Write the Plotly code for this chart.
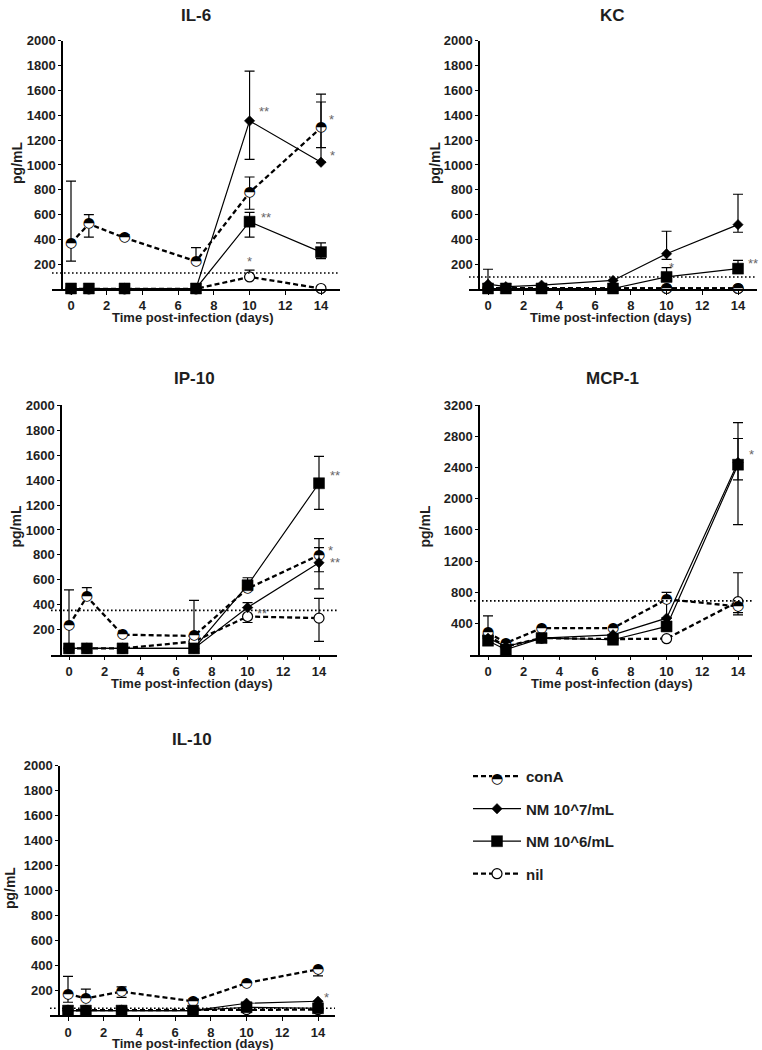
import plotly.graph_objects as go

W, H = 762, 1050

days = [0, 1, 3, 7, 10, 14]
x_ticks = [0, 2, 4, 6, 8, 10, 12, 14]
series_names = ["conA", "NM 10^7/mL", "NM 10^6/mL", "nil"]

# ---------------- IL-6 ----------------
il6_cona = [370, 525, 413, 224, 778, 1300]
il6_cona_up = [500, 75, 25, 110, 125, 271]
il6_cona_dn = [145, 107, 0, 0, 135, 160]
il6_nm7 = [5, 5, 5, 5, 1355, 1022]
il6_nm7_up = [0, 0, 0, 0, 400, 485]
il6_nm7_dn = [0, 0, 0, 0, 310, 0]
il6_nm6 = [5, 5, 5, 5, 543, 298]
il6_nm6_up = [0, 0, 0, 0, 75, 75]
il6_nm6_dn = [0, 0, 0, 0, 125, 53]
il6_nil = [2, 2, 2, 2, 98, 5]
il6_nil_up = [0, 0, 0, 0, 55, 0]
il6_nil_dn = [0, 0, 0, 0, 0, 0]
il6_lod = 130
il6_stars_x = [10.8, 14.6, 14.65, 10.9, 10.0]
il6_stars_y = [1457, 1390, 1097, 604, 245]
il6_stars = ["**", "*", "*", "**", "*"]

# ---------------- KC ----------------
kc_cona = [8, 8, 8, 8, 5, 5]
kc_cona_up = [0, 0, 0, 0, 0, 0]
kc_cona_dn = [0, 0, 0, 0, 0, 0]
kc_nm7 = [40, 20, 32, 70, 285, 519]
kc_nm7_up = [120, 0, 0, 0, 181, 245]
kc_nm7_dn = [0, 0, 0, 0, 45, 61]
kc_nm6 = [5, 5, 5, 5, 98, 165]
kc_nm6_up = [0, 0, 0, 0, 75, 67]
kc_nm6_dn = [0, 0, 0, 0, 0, 27]
kc_nil = [5, 5, 5, 5, 5, 5]
kc_nil_up = [0, 0, 0, 0, 0, 0]
kc_nil_dn = [0, 0, 0, 0, 0, 0]
kc_lod = 98
kc_stars_x = [10.3, 14.84]
kc_stars_y = [197, 232]
kc_stars = ["*", "**"]

# ---------------- IP-10 ----------------
ip10_cona = [235, 465, 160, 150, 530, 798]
ip10_cona_up = [285, 72, 0, 285, 0, 133]
ip10_cona_dn = [185, 0, 0, 0, 0, 133]
ip10_nm7 = [50, 50, 50, 50, 378, 737]
ip10_nm7_up = [0, 0, 0, 0, 40, 122]
ip10_nm7_dn = [0, 0, 0, 0, 0, 210]
ip10_nm6 = [50, 50, 50, 50, 557, 1375]
ip10_nm6_up = [0, 0, 0, 0, 60, 216]
ip10_nm6_dn = [0, 0, 0, 0, 0, 210]
ip10_nil = [50, 50, 50, 106, 306, 293]
ip10_nil_up = [0, 0, 0, 0, 0, 159]
ip10_nil_dn = [0, 0, 0, 0, 48, 187]
ip10_lod = 355
ip10_stars_x = [14.88, 14.63, 14.88, 10.8]
ip10_stars_y = [1463, 859, 763, 351]
ip10_stars = ["**", "*", "**", "**"]

# ---------------- MCP-1 ----------------
mcp1_cona = [285, 149, 340, 340, 711, 620]
mcp1_cona_up = [213, 0, 0, 0, 89, 0]
mcp1_cona_dn = [0, 0, 0, 0, 240, 80]
mcp1_nm7 = [210, 106, 213, 255, 468, 2468]
mcp1_nm7_up = [0, 0, 0, 0, 0, 306]
mcp1_nm7_dn = [0, 0, 0, 0, 0, 226]
mcp1_nm6 = [179, 64, 213, 191, 362, 2438]
mcp1_nm6_up = [0, 0, 0, 0, 0, 540]
mcp1_nm6_dn = [0, 0, 0, 0, 0, 770]
mcp1_nil = [243, 106, 213, 200, 205, 681]
mcp1_nil_up = [0, 0, 0, 0, 0, 370]
mcp1_nil_dn = [0, 0, 0, 0, 0, 171]
mcp1_lod = 690
mcp1_stars_x = [14.78]
mcp1_stars_y = [2608]
mcp1_stars = ["*"]

# ---------------- IL-10 ----------------
il10_cona = [170, 135, 189, 112, 258, 369]
il10_cona_up = [141, 75, 39, 18, 0, 0]
il10_cona_dn = [66, 0, 46, 0, 0, 53]
il10_nm7 = [37, 37, 37, 37, 96, 112]
il10_nm7_up = [0, 0, 0, 0, 0, 0]
il10_nm7_dn = [0, 0, 0, 0, 0, 0]
il10_nm6 = [37, 37, 37, 37, 64, 56]
il10_nm6_up = [0, 0, 0, 0, 0, 0]
il10_nm6_dn = [0, 0, 0, 0, 0, 0]
il10_nil = [40, 40, 40, 40, 45, 45]
il10_nil_up = [0, 0, 0, 0, 0, 0]
il10_nil_dn = [0, 0, 0, 0, 0, 0]
il10_lod = 56
il10_stars_x = [14.5]
il10_stars_y = [170]
il10_stars = ["*"]

y_ticks_2000 = [200, 400, 600, 800, 1000, 1200, 1400, 1600, 1800, 2000]
y_ticks_3200 = [400, 800, 1200, 1600, 2000, 2400, 2800, 3200]

panels = [
    dict(title="IL-6", ymax=2000, yticks=y_ticks_2000,
         data=[(il6_cona, il6_cona_up, il6_cona_dn), (il6_nm7, il6_nm7_up, il6_nm7_dn),
               (il6_nm6, il6_nm6_up, il6_nm6_dn), (il6_nil, il6_nil_up, il6_nil_dn)],
         lod=il6_lod, stars=(il6_stars_x, il6_stars_y, il6_stars),
         px=dict(xl=52, xr=340, yx=62, x0=71, x14=321, ytop=34, ybot=284,
                 tx=196, ty=9, lx=17, ly=157, bx=193, by=313)),
    dict(title="KC", ymax=2000, yticks=y_ticks_2000,
         data=[(kc_cona, kc_cona_up, kc_cona_dn), (kc_nm7, kc_nm7_up, kc_nm7_dn),
               (kc_nm6, kc_nm6_up, kc_nm6_dn), (kc_nil, kc_nil_up, kc_nil_dn)],
         lod=kc_lod, stars=(kc_stars_x, kc_stars_y, kc_stars),
         px=dict(xl=469, xr=757, yx=479, x0=488, x14=738, ytop=34, ybot=284,
                 tx=612, ty=9, lx=435, ly=157, bx=611, by=313)),
    dict(title="IP-10", ymax=2000, yticks=y_ticks_2000,
         data=[(ip10_cona, ip10_cona_up, ip10_cona_dn), (ip10_nm7, ip10_nm7_up, ip10_nm7_dn),
               (ip10_nm6, ip10_nm6_up, ip10_nm6_dn), (ip10_nil, ip10_nil_up, ip10_nil_dn)],
         lod=ip10_lod, stars=(ip10_stars_x, ip10_stars_y, ip10_stars),
         px=dict(xl=51, xr=337, yx=61, x0=69, x14=319, ytop=401, ybot=652,
                 tx=194, ty=374, lx=16, ly=523, bx=192, by=681)),
    dict(title="MCP-1", ymax=3200, yticks=y_ticks_3200,
         data=[(mcp1_cona, mcp1_cona_up, mcp1_cona_dn), (mcp1_nm7, mcp1_nm7_up, mcp1_nm7_dn),
               (mcp1_nm6, mcp1_nm6_up, mcp1_nm6_dn), (mcp1_nil, mcp1_nil_up, mcp1_nil_dn)],
         lod=mcp1_lod, stars=(mcp1_stars_x, mcp1_stars_y, mcp1_stars),
         px=dict(xl=470, xr=752, yx=479, x0=488, x14=738, ytop=401, ybot=652,
                 tx=612, ty=374, lx=425, ly=523, bx=612, by=681)),
    dict(title="IL-10", ymax=2000, yticks=y_ticks_2000,
         data=[(il10_cona, il10_cona_up, il10_cona_dn), (il10_nm7, il10_nm7_up, il10_nm7_dn),
               (il10_nm6, il10_nm6_up, il10_nm6_dn), (il10_nil, il10_nil_up, il10_nil_dn)],
         lod=il10_lod, stars=(il10_stars_x, il10_stars_y, il10_stars),
         px=dict(xl=50, xr=335, yx=59, x0=68, x14=318, ytop=764, ybot=1015,
                 tx=192, ty=737, lx=10, ly=887, bx=193, by=1043)),
]

FONT = "Liberation Sans, Arial, sans-serif"
GLYPH_FONT = "DejaVu Sans"
HALF_CIRCLE = "\u25d3"  # circle with upper half black (conA symbol)
TXT = "#1e1e1e"

styles = {
    # conA: white disk masks the line; the half-filled glyph is drawn on top
    "conA": dict(symbol="circle", size=10, dash="5px,3px", lw=2.3,
                 marker=dict(color="white", line=dict(color="white", width=0))),
    "NM 10^7/mL": dict(symbol="diamond", size=8, dash="solid", lw=1.2,
                       marker=dict(color="black", line=dict(color="black", width=0.5))),
    "NM 10^6/mL": dict(symbol="square", size=11, dash="solid", lw=1.2,
                       marker=dict(color="black", line=dict(color="black", width=0.5))),
    "nil": dict(symbol="circle", size=10, dash="5px,3px", lw=2.3,
                marker=dict(color="white", line=dict(color="black", width=1.2))),
}
draw_order = [3, 0, 1, 2]  # nil, conA, NM7, NM6 (NM6 on top)
legend_rank = {0: 1, 1: 2, 2: 3, 3: 4}

fig = go.Figure()
annotations = []
shapes = []

for i, p in enumerate(panels):
    q = p["px"]
    ax = "" if i == 0 else str(i + 1)
    ppd = (q["x14"] - q["x0"]) / 14.0
    xr = [(q["xl"] - q["x0"]) / ppd, (q["xr"] - q["x0"]) / ppd]
    fig.layout["xaxis" + ax] = dict(
        domain=[q["xl"] / W, q["xr"] / W], range=xr, anchor="y" + ax,
        showline=True, linecolor="black", linewidth=1.5, showgrid=False, zeroline=False,
        ticks="outside", ticklen=4, tickwidth=1.3, tickcolor="black",
        tickvals=x_ticks, tickfont=dict(family=FONT, size=13, color=TXT, weight="bold"),
    )
    fig.layout["yaxis" + ax] = dict(
        domain=[1 - q["ybot"] / H, 1 - q["ytop"] / H], range=[0, p["ymax"]],
        anchor="free", position=q["yx"] / W,
        showline=True, linecolor="black", linewidth=1.5, showgrid=False, zeroline=False,
        ticks="outside", ticklen=3, tickwidth=1.3, tickcolor="black",
        tickvals=p["yticks"], tickfont=dict(family=FONT, size=13, color=TXT, weight="bold"),
    )
    for k in draw_order:
        name = series_names[k]
        st = styles[name]
        vals, up, dn = p["data"][k]
        mk = dict(st["marker"])
        mk["symbol"] = st["symbol"]
        mk["size"] = st["size"]
        fig.add_trace(go.Scatter(
            x=days, y=vals, name=name, mode="lines+markers",
            xaxis="x" + ax, yaxis="y" + ax, cliponaxis=False,
            line=dict(color="black", width=st["lw"], dash=st["dash"]),
            marker=mk,
            error_y=dict(type="data", symmetric=False, array=up, arrayminus=dn,
                         color="black", thickness=1.2, width=5),
            showlegend=(i == 0), legendgroup=name, legendrank=legend_rank[k],
        ))
        if name == "conA":
            fig.add_trace(go.Scatter(
                x=days, y=vals, mode="text", text=[HALF_CIRCLE] * len(days),
                textposition="middle center", cliponaxis=False,
                textfont=dict(family=GLYPH_FONT, size=14, color="black"),
                xaxis="x" + ax, yaxis="y" + ax, showlegend=False, hoverinfo="skip",
            ))
    shapes.append(dict(type="line", xref="x" + ax + " domain", x0=0, x1=1,
                       yref="y" + ax, y0=p["lod"], y1=p["lod"],
                       line=dict(color="black", width=1.6, dash="1.6px,2.4px")))
    sx, sy, st_txt = p["stars"]
    for xx, yy, tt in zip(sx, sy, st_txt):
        annotations.append(dict(x=xx, y=yy, xref="x" + ax, yref="y" + ax, text=tt,
                                showarrow=False, yshift=-3,
                                font=dict(family=FONT, size=13, color="#666666")))
    annotations.append(dict(x=q["tx"] / W, y=1 - q["ty"] / H, xref="paper", yref="paper",
                            text=p["title"], showarrow=False, xanchor="center", yanchor="middle",
                            font=dict(family=FONT, size=17, color=TXT, weight="bold")))
    annotations.append(dict(x=q["lx"] / W, y=1 - q["ly"] / H, xref="paper", yref="paper",
                            text="pg/mL", textangle=-90, showarrow=False,
                            xanchor="center", yanchor="middle",
                            font=dict(family=FONT, size=14, color=TXT, weight="bold")))
    annotations.append(dict(x=q["bx"] / W, y=1 - q["by"] / H, xref="paper", yref="paper",
                            text="Time post-infection (days)", showarrow=False,
                            xanchor="center", yanchor="middle",
                            font=dict(family=FONT, size=13, color=TXT, weight="bold")))

# half-filled glyph over the conA legend symbol
annotations.append(dict(x=497 / W, y=1 - 776 / H, xref="paper", yref="paper",
                        text=HALF_CIRCLE, showarrow=False, xanchor="center", yanchor="middle",
                        font=dict(family=GLYPH_FONT, size=14, color="black")))

fig.update_layout(
    width=W, height=H, margin=dict(l=0, r=0, t=0, b=0),
    paper_bgcolor="white", plot_bgcolor="white",
    showlegend=True,
    legend=dict(x=468 / W, y=1 - 758 / H, xanchor="left", yanchor="top",
                traceorder="grouped", tracegroupgap=10, itemwidth=48,
                font=dict(family=FONT, size=15, color=TXT, weight="bold"),
                bgcolor="rgba(0,0,0,0)"),
    annotations=annotations, shapes=shapes,
)

fig.write_html("out.html", config={"displayModeBar": False},
               post_script="document.body.style.margin='0px';")
